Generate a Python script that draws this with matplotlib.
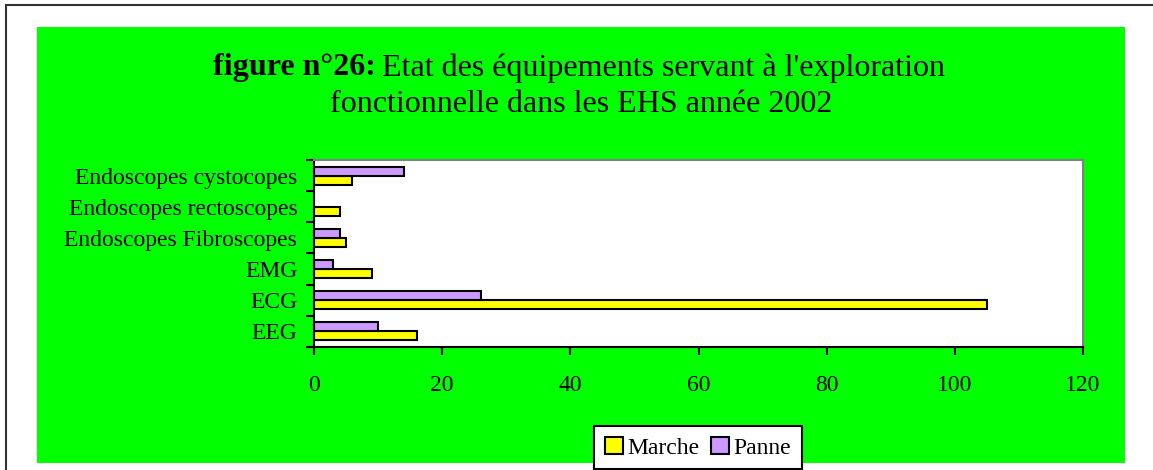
import matplotlib
matplotlib.use("Agg")
import matplotlib.pyplot as plt
from matplotlib.patches import Rectangle, Patch
from matplotlib.lines import Line2D
import numpy as np

# ---- Data ----
categories = ["EEG", "ECG", "EMG", "Endoscopes Fibroscopes",
              "Endoscopes rectoscopes", "Endoscopes cystocopes"]
marche = [16, 105, 9, 5, 4, 6]
panne = [10, 26, 3, 4, 0, 14]
x_ticks = [0, 20, 40, 60, 80, 100, 120]

W, H = 1153, 470
plt.rcParams["font.family"] = ["Liberation Serif", "DejaVu Serif"]

fig = plt.figure(figsize=(W / 100, H / 100), dpi=100)
fig.patch.set_facecolor("white")

# outer frame (left and top only visible)
fig.add_artist(Line2D([6 / W, 6 / W], [0, 1 - 5 / H], color="#333333", lw=1.5))
fig.add_artist(Line2D([6 / W, 1], [1 - 5 / H, 1 - 5 / H], color="#333333", lw=1.5))

# green panel
fig.add_artist(Rectangle((37 / W, 1 - 463 / H), (1125 - 37) / W, (463 - 27) / H,
                         facecolor="#00FF00", edgecolor="none", zorder=0))

# title: bold prefix followed by normal text, second line centred
t1 = fig.text(213 / W, 1 - 68 / H, "figure n°26:", fontsize=23, fontweight="bold",
              ha="left", va="center")
fig.canvas.draw()
bb = t1.get_window_extent()
fig.text(bb.x1 / W + 6 / W, 1 - 68 / H, "Etat des équipements servant à l'exploration",
         fontsize=23, ha="left", va="center")
fig.text(581 / W, 1 - 104 / H, "fonctionnelle dans les EHS année 2002",
         fontsize=23, ha="center", va="center")

ax = fig.add_axes([314 / W, 1 - 347 / H, (1083 - 314) / W, (347 - 160) / H])
ax.set_facecolor("white")

y = np.arange(len(categories))
h = 0.29
ax.barh(y - h / 2, marche, height=h, color="#FFFF00", edgecolor="black", lw=1.5, label="Marche")
ax.barh(y + h / 2, panne, height=h, color="#CC99FF", edgecolor="black", lw=1.5, label="Panne")

ax.set_xlim(0, 120)
ax.set_ylim(-0.5, len(categories) - 0.5)
ax.set_xticks(x_ticks)
ax.set_xticklabels([str(v) for v in x_ticks], fontsize=17)
ax.set_yticks(np.arange(len(categories) + 1) - 0.5)
ax.set_yticklabels([])
ax.set_yticks(y, minor=True)
ax.set_yticklabels(categories, minor=True, fontsize=17)
ax.tick_params(axis="y", which="major", direction="out", length=6, width=1.5, color="black")
ax.tick_params(axis="y", which="minor", length=0, pad=12)
ax.tick_params(axis="x", direction="out", length=6, width=1.5, color="black", pad=14)

ax.spines["left"].set_color("black")
ax.spines["left"].set_linewidth(1.5)
ax.spines["bottom"].set_color("black")
ax.spines["bottom"].set_linewidth(1.5)
ax.spines["top"].set_color("#808080")
ax.spines["top"].set_linewidth(1.5)
ax.spines["right"].set_color("#808080")
ax.spines["right"].set_linewidth(1.5)

handles = [Patch(facecolor="#FFFF00", edgecolor="black", lw=1.5),
           Patch(facecolor="#CC99FF", edgecolor="black", lw=1.5)]
leg = fig.legend(handles, ["Marche", "Panne"], loc="upper center",
                 bbox_to_anchor=(698 / W, 1 - 426 / H), ncol=2, fontsize=17,
                 frameon=True, fancybox=False, framealpha=1, borderpad=0.45,
                 handlelength=0.75, handleheight=0.75, handletextpad=0.2,
                 columnspacing=0.5, borderaxespad=0)
leg.get_frame().set_edgecolor("black")
leg.get_frame().set_linewidth(1.5)
leg.get_frame().set_facecolor("white")

fig.savefig("out.png", dpi=100)
